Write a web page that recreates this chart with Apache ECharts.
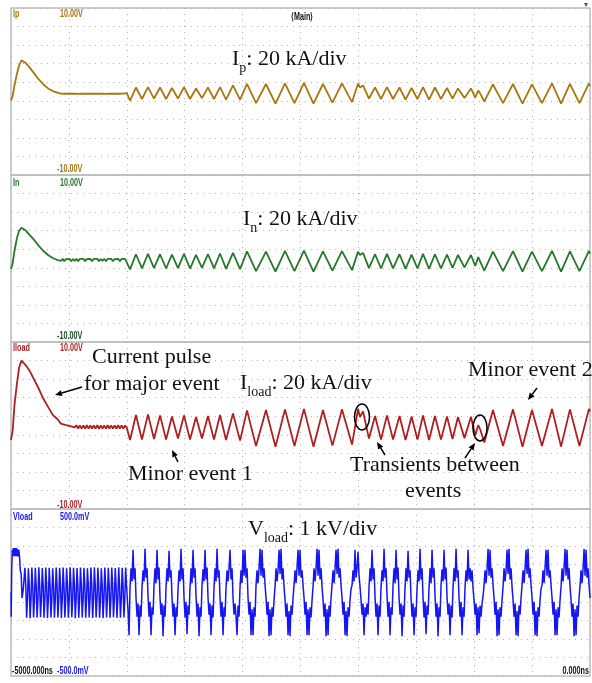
<!DOCTYPE html>
<html>
<head>
<meta charset="utf-8">
<script src="https://cdn.jsdelivr.net/npm/echarts@6/dist/echarts.min.js"></script>
<style>
html, body { margin: 0; padding: 0; background: #fff; }
#scope { width: 592px; height: 683px; }
</style>
</head>
<body>
<div id="scope"></div>
<script>
// time of each current vertex, in microseconds (screen is -5 us .. 0 us)
var tCur = [
  -5.000,-4.985,-4.970,-4.950,-4.930,-4.910,-4.895,-4.870,-4.840,-4.800,-4.760,-4.720,-4.680,-4.640,-4.600,
  -4.585,-4.570,-4.555,-4.540,-4.525,-4.510,-4.495,-4.480,-4.465,-4.450,-4.435,-4.420,-4.405,-4.390,-4.375,-4.360,-4.345,-4.330,-4.315,-4.300,
  -4.285,-4.270,-4.255,-4.240,-4.225,-4.210,-4.195,-4.180,-4.165,-4.150,-4.135,-4.120,-4.105,-4.090,-4.075,-4.060,-4.045,-4.030,-4.015,-4.000,
  -3.972,-3.921,-3.869,-3.817,-3.765,-3.713,-3.661,-3.610,-3.558,-3.506,-3.454,-3.402,-3.351,-3.299,-3.247,-3.195,-3.143,-3.083,-3.022,-2.962,
  -2.884,-2.798,-2.716,-2.634,-2.552,-2.470,-2.388,-2.306,-2.224,-2.142,-2.055,-2.003,-1.986,-1.960,-1.909,-1.856,-1.805,-1.753,-1.701,-1.645,
  -1.593,-1.541,-1.490,-1.442,-1.390,-1.339,-1.287,-1.235,-1.187,-1.140,-1.084,-1.028,-0.991,-0.965,-0.948,-0.913,-0.838,-0.751,-0.665,-0.583,
  -0.501,-0.415,-0.328,-0.250,-0.173,-0.091,-0.009,0.000
];

// currents in kA (20 kA/div)
var ipVals = [
  -9.8,-4.3,6.5,18.4,28.2,33.6,33.1,30.4,26.0,19.5,13.0,7.6,3.3,0.5,-1.1,
  -0.3,-2.3,-0.5,-2.4,-0.4,-2.2,-0.5,-2.4,-0.3,-2.3,-0.5,-2.5,-0.4,-2.3,-0.4,-2.4,-0.5,-2.3,-0.3,-2.4,
  -0.4,-2.3,-0.5,-2.4,-0.4,-2.3,-0.3,-2.5,-0.4,-2.3,-0.5,-2.4,-0.4,-2.3,-0.3,-2.4,-0.5,-2.3,-0.4,-1.8,
  -9.8,4.3,-8.1,4.8,-7.6,4.3,-8.1,3.8,-7.6,4.8,-8.1,3.3,-7.1,4.3,-8.1,4.8,-8.7,6.5,-8.7,8.1,
  -12.5,8.1,-13.0,8.7,-12.5,9.2,-13.0,8.1,-12.0,8.7,-11.4,8.7,4.3,6.5,-7.6,4.3,-8.1,4.8,-8.1,4.3,
  -8.7,3.8,-8.1,4.8,-8.7,4.3,-8.1,3.8,-7.6,3.3,-7.1,3.3,-6.5,1.1,-2.2,-10.8,7.6,-12.5,8.1,-13.0,
  7.6,-12.5,8.7,-13.0,8.1,-12.5,8.7,6.0
];
var inVals = [
  -11.4,-4.9,8.1,21.2,29.8,33.1,32.5,29.8,25.5,20.0,13.6,8.1,3.8,0.5,-1.6,
  -0.5,-2.7,-0.4,-2.8,-0.6,-2.6,-0.4,-2.8,-0.5,-2.7,-0.3,-2.8,-0.5,-2.6,-0.4,-2.8,-0.6,-2.7,-0.4,-2.8,
  -0.5,-2.6,-0.4,-2.8,-0.5,-2.7,-0.3,-2.8,-0.5,-2.6,-0.4,-2.8,-0.6,-2.7,-0.4,-2.8,-0.5,-2.6,-0.4,-2.2,
  -11.7,4.6,-10.6,5.0,-10.3,4.6,-10.8,4.1,-10.3,5.0,-10.8,3.8,-10.0,4.6,-10.6,5.4,-11.1,6.0,-11.4,7.6,
  -13.6,7.4,-14.1,8.1,-13.6,8.4,-14.1,7.6,-13.0,7.9,-12.5,7.4,3.8,6.0,-10.3,4.6,-10.8,5.0,-10.6,4.6,
  -11.1,4.1,-10.6,5.0,-11.1,4.6,-10.6,4.1,-10.0,3.8,-9.5,3.8,-8.1,1.6,-3.3,-13.0,7.4,-13.6,7.9,-14.1,
  7.4,-13.6,8.1,-14.1,7.6,-13.6,8.1,5.4
];
var iloadVals = [
  -15.7,-4.9,22.2,43.9,62.4,70.0,68.9,64.6,59.1,49.4,39.6,28.8,20.1,11.4,7.0,
  4.5,2.0,3.6,1.0,2.4,0.0,1.5,-0.9,0.6,-2.0,0.3,-3.2,0.2,-3.3,0.1,-3.4,0.3,-3.3,0.2,-3.4,
  0.1,-3.3,0.3,-3.5,0.2,-3.3,0.1,-3.4,0.3,-3.3,0.2,-3.4,0.1,-3.3,0.3,-3.4,0.2,-3.3,0.1,-2.5,
  -15.7,11.4,-15.2,12.0,-14.6,10.9,-15.2,9.8,-14.1,10.9,-15.2,9.2,-14.1,10.3,-15.2,11.4,-15.7,13.0,-16.3,16.3,
  -22.2,16.8,-22.8,17.4,-22.2,17.9,-22.8,16.8,-21.7,17.4,-20.6,17.9,9.2,15.2,-14.1,10.3,-15.2,10.9,-15.2,10.3,
  -15.7,9.8,-15.2,10.9,-15.7,10.3,-15.2,9.8,-14.6,9.2,-13.6,9.5,-10.8,0.5,-4.3,-18.4,16.8,-22.2,17.4,-22.8,
  16.8,-22.2,17.9,-22.8,17.4,-22.2,17.9,15.0
];

// load voltage in kV (1 kV/div): start of the pulse, explicit vertices
var vPulseT = [-5.000,-4.998,-4.994,-4.988,-4.984,-4.980,-4.976,-4.972,-4.968,-4.964,-4.960,-4.955,-4.950,-4.945,-4.940,-4.932,-4.925,-4.920,-4.912,-4.905,-4.895,-4.885];
var vPulseV = [0.0,-1.3,1.2,2.3,1.95,2.4,1.95,2.4,1.95,2.4,1.95,2.4,1.95,2.35,1.95,2.3,1.8,1.2,1.0,-0.3,0.1,0.0];

// switching band before the oscillation, sampled every 0.0075 us from -4.88 us
var vBandT0 = -4.88, vBandDt = 0.0075;
var vBandV = [
  1.33,0.40,-1.36,-0.38, 1.30,0.42,-1.38,-0.40, 1.35,0.40,-1.35,-0.38, 1.33,0.38,-1.36,-0.40,
  1.36,0.40,-1.33,-0.38, 1.32,0.42,-1.36,-0.40, 1.34,0.40,-1.38,-0.38, 1.33,0.38,-1.35,-0.40,
  1.30,0.40,-1.36,-0.38, 1.35,0.42,-1.34,-0.40, 1.33,0.40,-1.37,-0.38, 1.34,0.38,-1.35,-0.40,
  1.31,0.40,-1.36,-0.38, 1.36,0.42,-1.33,-0.40, 1.33,0.40,-1.38,-0.38, 1.32,0.38,-1.36,-0.40,
  1.35,0.40,-1.35,-0.38, 1.33,0.42,-1.36,-0.40, 1.30,0.40,-1.34,-0.38, 1.34,0.38,-1.37,-0.40,
  1.36,0.40,-1.35,-0.38, 1.33,0.42,-1.36,-0.40, 1.31,0.40,-1.38,-0.38, 1.35,0.38,-1.35,-0.40,
  1.33,0.40,-1.36,-0.38, 1.34,0.42,-1.33,-0.40, 1.32,0.40,-1.37,-0.38, 1.36,0.38,-1.36,-0.40,
  1.33,0.40,-1.35,-0.38, 1.34,0.40
];

// multilevel output during the events, sampled every 0.008636 us from -3.998 us
var vStepT0 = -3.998, vStepDt = 0.008636;
var vStepV = [
  0.4,-1.0,-2.3,
  0.3,1.3,0.6,2.3,0.7,1.3,-0.3,-1.3,-0.6,-2.3,-0.7,-1.3,
  0.3,1.2,0.6,2.35,0.8,1.3,-0.2,-1.3,-0.5,-2.3,-0.8,-1.2,
  0.4,1.3,0.5,2.3,0.7,1.35,-0.3,-1.2,-0.6,-2.35,-0.7,-1.3,
  0.3,1.3,0.6,2.25,0.8,1.2,-0.3,-1.3,-0.6,-2.3,-0.8,-1.3,
  0.2,1.2,0.6,2.35,0.7,1.3,-0.3,-1.35,-0.5,-2.25,-0.7,-1.2,
  0.3,1.3,0.5,2.3,0.8,1.3,-0.2,-1.3,-0.6,-2.35,-0.8,-1.3,
  0.4,1.25,0.6,2.3,0.7,1.35,-0.3,-1.2,-0.6,-2.3,-0.7,-1.35,
  0.3,1.3,0.6,2.35,0.8,1.2,-0.3,-1.3,-0.5,-2.3,-0.8,-1.3,
  0.3,1.2,0.6,1.3,2.3,0.7,1.3,-0.3,-1.2,-0.6,-1.3,-2.3,-0.7,-1.3,
  0.3,1.2,0.5,2.3,0.9,2.3,0.8,1.3,-0.3,-1.2,-0.5,-2.3,-0.9,-2.3,-0.8,-1.3,
  0.4,1.2,0.5,1.3,2.35,0.9,2.3,0.8,1.3,0.4,-0.3,-1.2,-0.5,-2.35,-0.9,-2.3,-0.8,-1.3,-0.4,
  0.3,1.3,0.6,1.2,2.3,1.0,2.35,0.7,1.3,0.3,-0.4,-1.3,-0.6,-2.3,-1.0,-2.35,-0.7,-1.2,-0.3,
  0.4,1.2,0.5,1.35,2.3,0.9,2.3,0.8,1.2,0.4,-0.3,-1.2,-0.5,-2.3,-0.9,-2.3,-0.8,-1.35,-0.4,
  0.3,1.3,0.6,1.3,2.35,0.9,2.3,0.7,1.3,0.3,-0.4,-1.3,-0.6,-2.35,-0.9,-2.3,-0.7,-1.3,-0.3,
  0.4,1.2,0.5,1.3,2.3,1.0,2.35,0.8,1.3,0.4,-0.3,-1.2,-0.5,-2.3,-1.0,-2.35,-0.8,-1.3,-0.4,0.2,
  0.4,1.2,0.6,2.3,0.8,1.3,2.2,0.9,0.3,-0.4,-1.2,-0.6,-2.3,-0.8,-1.3,-0.6,-1.2,
  0.3,1.3,0.6,2.3,0.7,1.3,-0.3,-1.3,-0.6,-2.3,-0.7,-1.3,
  0.3,1.2,0.6,2.35,0.8,1.3,-0.2,-1.3,-0.5,-2.3,-0.8,-1.2,
  0.4,1.3,0.5,2.3,0.7,1.35,-0.3,-1.2,-0.6,-2.35,-0.7,-1.3,
  0.3,1.3,0.6,2.25,0.8,1.2,-0.3,-1.3,-0.6,-2.3,-0.8,-1.3,
  0.2,1.2,0.6,2.35,0.7,1.3,-0.3,-1.35,-0.5,-2.25,-0.7,-1.2,
  0.3,1.3,0.5,2.3,0.8,1.3,-0.2,-1.3,-0.6,-2.35,-0.8,-1.3,
  0.4,1.25,0.6,2.3,0.7,1.35,-0.3,-1.2,-0.6,-2.3,-0.7,-1.35,
  0.3,1.3,0.6,2.35,0.8,1.2,-0.3,-1.3,-0.5,-2.3,-0.8,-1.3,
  0.3,1.2,0.6,2.3,0.7,1.3,0.6,1.2,0.2,-0.4,-1.2,-0.6,-2.3,-0.8,-2.2,-0.7,-1.3,-0.6,-0.2,
  0.4,1.2,0.5,1.3,2.35,0.9,2.3,0.8,1.3,0.4,-0.3,-1.2,-0.5,-2.35,-0.9,-2.3,-0.8,-1.3,-0.4,
  0.3,1.3,0.6,1.2,2.3,1.0,2.35,0.7,1.3,0.3,-0.4,-1.3,-0.6,-2.3,-1.0,-2.35,-0.7,-1.2,-0.3,
  0.4,1.2,0.5,1.3,2.3,1.0,2.35,0.8,1.3,0.4,-0.3,-1.2,-0.5,-2.3,-1.0,-2.35,-0.8,-1.3,-0.4,0.2,
  0.4,1.2,0.5,1.35,2.3,0.9,2.3,0.8,1.2,0.4,-0.3,-1.2,-0.5,-2.3,-0.9,-2.3,-0.8,-1.35,-0.4,
  0.3,1.3,0.6,1.3,2.35,0.9,2.3,0.7,1.3,0.3,-0.4,-1.3,-0.6,-2.35,-0.9,-2.3,-0.7,-1.3,-0.3,
  0.4,1.2,0.5,1.3,2.35,0.9,2.3,0.8,1.3,0.4,-0.3
];

var panelTops = [8, 175, 342, 509];
var panelH = 167;
var traceColors = ['#a8770f', '#26782a', '#ae1f22', '#1616f0'];

var dom = document.getElementById('scope');
var myChart = echarts.init(dom, null, { renderer: 'canvas' });

function pairs(ts, vs) {
  return ts.map(function (t, i) { return [t, vs[i]]; });
}
function sampled(t0, dt, vs) {
  return vs.map(function (v, i) { return [t0 + i * dt, v]; });
}
var vloadData = pairs(vPulseT, vPulseV)
  .concat(sampled(vBandT0, vBandDt, vBandV))
  .concat(sampled(vStepT0, vStepDt, vStepV));

var dotted = { color: '#b3b3b3', type: [1, 5], width: 1 };

var serif = "'Liberation Serif', 'Times New Roman', serif";
var rich = {
  m: { fontSize: 22, fontFamily: serif, fill: '#111', verticalAlign: 'bottom', padding: [0, 0, 5, 0] },
  s: { fontSize: 14, fontFamily: serif, fill: '#111', verticalAlign: 'bottom' }
};
function ann(x, y, text) {
  return { type: 'text', x: x, y: y, silent: true, z: 100,
    style: { text: text, rich: rich, align: 'left', verticalAlign: 'middle' } };
}
function tag(x, y, text, color, align) {
  return { type: 'text', x: x, y: y, scaleX: 0.72, silent: true, z: 100,
    style: { text: text, fill: color, font: 'bold 10px "Liberation Sans", Arial, sans-serif',
      align: align || 'left', verticalAlign: 'middle' } };
}
function arrow(x1, y1, x2, y2) {
  var a = Math.atan2(y2 - y1, x2 - x1), L = 7, W = 3;
  var bx = x2 - L * Math.cos(a), by = y2 - L * Math.sin(a);
  return [
    { type: 'line', silent: true, z: 100, shape: { x1: x1, y1: y1, x2: bx, y2: by }, style: { stroke: '#000', lineWidth: 1.5 } },
    { type: 'polygon', silent: true, z: 100,
      shape: { points: [[x2, y2], [bx - W * Math.sin(a), by + W * Math.cos(a)], [bx + W * Math.sin(a), by - W * Math.cos(a)]] },
      style: { fill: '#000' } }
  ];
}
function ring(cx, cy, rx, ry) {
  return { type: 'ellipse', silent: true, z: 100, shape: { cx: cx, cy: cy, rx: rx, ry: ry },
    style: { fill: 'none', stroke: '#000', lineWidth: 1.5 } };
}

var graphics = [
  tag(13, 14, 'Ip', traceColors[0]), tag(60, 14, '10.00V', traceColors[0]), tag(57, 169, '-10.00V', traceColors[0]),
  tag(13, 183, 'In', traceColors[1]), tag(60, 183, '10.00V', traceColors[1]), tag(57, 336, '-10.00V', '#1d4d1f'),
  tag(13, 348, 'Iload', traceColors[2]), tag(60, 348, '10.00V', traceColors[2]), tag(57, 505, '-10.00V', traceColors[2]),
  tag(13, 517, 'Vload', traceColors[3]), tag(60, 517, '500.0mV', traceColors[3]), tag(57, 671, '-500.0mV', traceColors[3]),
  tag(12, 671, '-5000.000ns', '#111'), tag(589, 671, '0.000ns', '#111', 'right'),
  tag(291, 17, '\u27e8Main\u27e9', '#111'),
  { type: 'text', x: 586, y: 5, silent: true, style: { text: '\u25be', fill: '#555', font: '8px sans-serif', align: 'center', verticalAlign: 'middle' } },
  ann(232, 62, '{m|I}{s|p}{m|: 20 kA/div}'),
  ann(243, 222, '{m|I}{s|n}{m|: 20 kA/div}'),
  ann(92, 360, '{m|Current pulse}'),
  ann(84, 387, '{m|for major event}'),
  ann(240, 386, '{m|I}{s|load}{m|: 20 kA/div}'),
  ann(468, 373, '{m|Minor event 2}'),
  ann(128, 477, '{m|Minor event 1}'),
  ann(350, 468, '{m|Transients between}'),
  ann(405, 494, '{m|events}'),
  ann(248, 532, '{m|V}{s|load}{m|: 1 kV/div}'),
  ring(362, 417, 7.5, 13), ring(480, 428, 7, 13)
].concat(arrow(82, 387, 55, 395))
 .concat(arrow(178, 462, 172, 450))
 .concat(arrow(385, 455, 377, 442))
 .concat(arrow(465, 458, 475, 443))
 .concat(arrow(537, 388, 528, 400));

var option = {
  animation: false,
  backgroundColor: '#fff',
  grid: panelTops.map(function (top) {
    return { left: 11, top: top, width: 579, height: panelH, show: true,
      borderColor: '#bdbdbd', borderWidth: 1.5, backgroundColor: 'transparent' };
  }),
  xAxis: panelTops.map(function (top, i) {
    return { type: 'value', gridIndex: i, min: -5, max: 0, interval: 0.5,
      axisLine: { show: false }, axisTick: { show: false }, axisLabel: { show: false },
      splitLine: { show: true, lineStyle: dotted } };
  }),
  yAxis: panelTops.map(function (top, i) {
    var lim = i < 3 ? 90 : 4.5;
    return { type: 'value', gridIndex: i, min: -lim, max: lim, interval: i < 3 ? 20 : 1,
      axisLine: { show: false }, axisTick: { show: false }, axisLabel: { show: false },
      splitLine: { show: true, lineStyle: dotted } };
  }),
  series: [
    { name: 'Ip', data: pairs(tCur, ipVals) },
    { name: 'In', data: pairs(tCur, inVals) },
    { name: 'Iload', data: pairs(tCur, iloadVals) },
    { name: 'Vload', data: vloadData }
  ].map(function (s, i) {
    return { name: s.name, type: 'line', xAxisIndex: i, yAxisIndex: i, data: s.data,
      showSymbol: false, symbol: 'none', silent: true, clip: true,
      lineStyle: { color: traceColors[i], width: i < 3 ? 1.8 : 1.5 } };
  }),
  graphic: graphics
};

if (option && typeof option === 'object') {
  myChart.setOption(option);
}

window.addEventListener('resize', myChart.resize);
</script>
</body>
</html>
